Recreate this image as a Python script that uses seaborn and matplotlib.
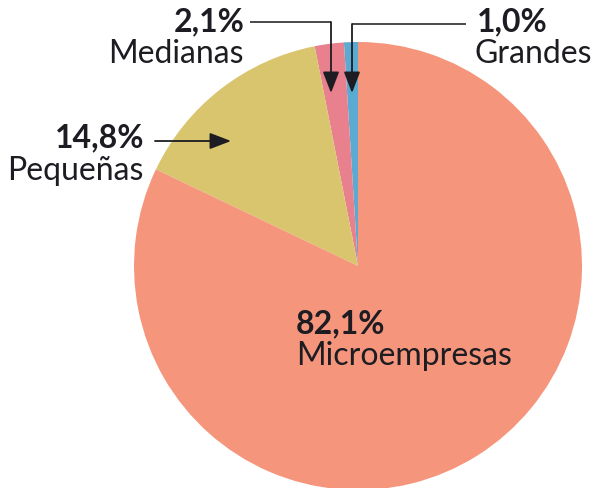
import matplotlib
matplotlib.use("Agg")
import matplotlib.pyplot as plt
import seaborn as sns

# Company size shares (%)
categories = ["Grandes", "Medianas", "Pequeñas", "Microempresas"]
shares = [1.0, 2.1, 14.8, 82.1]
share_labels = ["1,0%", "2,1%", "14,8%", "82,1%"]
colors = ["#5AAAD1", "#E8818D", "#DAC56F", "#F5957B"]

sns.set_theme(style="white")
plt.rcParams["font.family"] = ["Lato", "DejaVu Sans"]

W, H = 595, 488
fig = plt.figure(figsize=(W / 100, H / 100), dpi=100)
ax = fig.add_axes([0, 0, 1, 1])


def Y(y):
    # pixel row measured from the top -> data y (upwards)
    return H - y


cx, cy, r = 358, Y(266), 224
ax.pie(shares, colors=colors, startangle=90, counterclock=True,
       center=(cx, cy), radius=r, frame=True,
       wedgeprops=dict(linewidth=0))
ax.set_xlim(0, W)
ax.set_ylim(0, H)
ax.set_aspect("equal")
ax.axis("off")

ink = "#1c1c22"
line_c = "#3a3a3a"
bold = dict(fontsize=23, fontweight="bold", color=ink)
reg = dict(fontsize=23, color=ink)

# Grandes
ax.text(477, Y(22), share_labels[0], ha="left", va="center", **bold)
ax.text(475, Y(54), categories[0], ha="left", va="center", **reg)
# Medianas
ax.text(245, Y(22), share_labels[1], ha="right", va="center", **bold)
ax.text(244, Y(54), categories[1], ha="right", va="center", **reg)
# Pequeñas
ax.text(144, Y(138), share_labels[2], ha="right", va="center", **bold)
ax.text(144, Y(171), categories[2], ha="right", va="center", **reg)
# Microempresas
ax.text(296, Y(324), share_labels[3], ha="left", va="center", **bold)
ax.text(296, Y(356), categories[3], ha="left", va="center", **reg)

arrow = dict(arrowstyle="-|>,head_length=13,head_width=5",
             mutation_scale=1, color=ink, lw=1.3, shrinkA=0, shrinkB=0)

# leader lines
ax.plot([250, 331], [Y(22), Y(22)], color=line_c, lw=1.3, solid_capstyle="butt")
ax.annotate("", xy=(331, Y(93)), xytext=(331, Y(22)), arrowprops=arrow)
ax.plot([466, 352], [Y(24), Y(24)], color=line_c, lw=1.3, solid_capstyle="butt")
ax.annotate("", xy=(352, Y(93)), xytext=(352, Y(24)), arrowprops=arrow)
ax.annotate("", xy=(231, Y(141)), xytext=(155, Y(141)), arrowprops=arrow)

fig.savefig("out.png", dpi=100, facecolor="white")
